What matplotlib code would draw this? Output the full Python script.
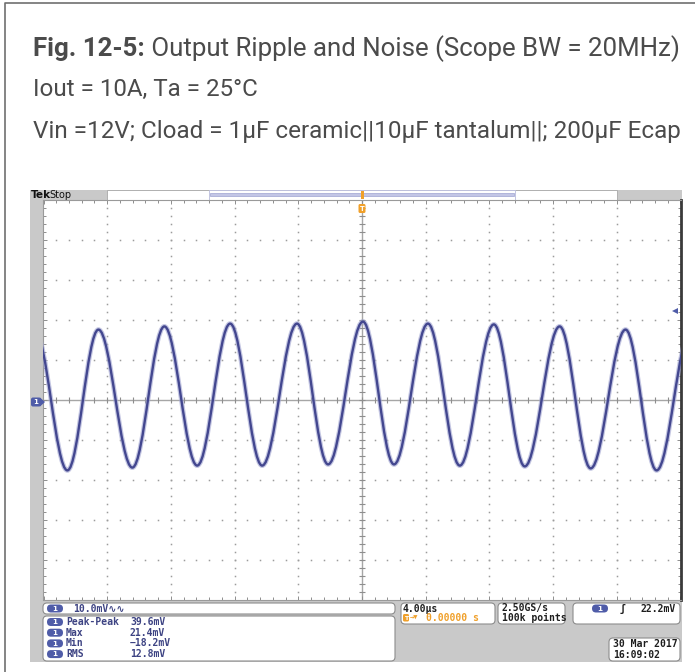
import matplotlib
matplotlib.use("Agg")
import matplotlib.pyplot as plt
import numpy as np
from matplotlib.patches import Rectangle, FancyBboxPatch, PathPatch, Polygon
from matplotlib.path import Path

W, H = 695, 672

# ripple extrema: time in us, level in mV
peak_us = [-20.55, -16.55, -12.41, -8.28, -4.08, 0.06, 4.14, 8.28, 12.41, 16.55, 20.65]
peak_mv = [17.4, 17.6, 18.4, 19.1, 19.1, 19.6, 19.1, 18.9, 18.4, 17.6, 17.4]
trough_us = [-18.50, -14.42, -10.35, -6.27, -2.13, 2.01, 6.14, 10.22, 14.36, 18.50]
trough_mv = [-17.6, -16.9, -16.4, -16.4, -16.1, -16.1, -16.4, -16.6, -17.1, -17.6]

trig_level_mv = 22.2
us_per_div = 4.0
mv_per_div = 10.0

title_bold = "Fig. 12-5:"
title_rest = " Output Ripple and Noise (Scope BW = 20MHz)"
line2 = "Iout = 10A, Ta = 25°C"
line3 = "Vin =12V; Cload = 1μF ceramic||10μF tantalum||; 200μF Ecap"

meas_names = ["Peak-Peak", "Max", "Min", "RMS"]
meas_vals = ["39.6mV", "21.4mV", "−18.2mV", "12.8mV"]
ch_scale = "10.0mV∿∿"
timebase = "4.00µs"
trig_pos = "0.00000 s"
sample_rate = "2.50GS/s"
record_len = "100k points"
trig_text = "22.2mV"
date_str = "30 Mar 2017"
time_str = "16:09:02"

NAVY = "#3d4383"
BADGE = "#4f5ca8"
ORANGE = "#f0a02a"
GRAYBG = "#c9c9c9"
MONO = ["DejaVu Sans Mono", "DejaVu Sans"]

fig = plt.figure(figsize=(W / 100, H / 100), dpi=100, facecolor="white")

# background layer in image pixel units
bg = fig.add_axes([0, 0, 1, 1], zorder=0)
bg.set_xlim(0, W)
bg.set_ylim(H, 0)
bg.axis("off")

# outer frame of the figure box
bg.plot([5, 5, W + 5], [H + 5, 3, 3], color="#6f6f6f", lw=1.2, clip_on=False)

# title lines, each fitted to the width seen in the reference
renderer = fig.canvas.get_renderer()
tcol = "#4b4b4b"
tfont = "Roboto"


def width(t):
    return t.get_window_extent(renderer).width


t1 = bg.text(33, 56, title_bold, fontsize=18, fontweight="bold", family=tfont,
             color=tcol, va="baseline")
t1b = bg.text(33, 56, title_rest, fontsize=18, family=tfont, color=tcol, va="baseline")
s = 18 * 647 / (width(t1) + width(t1b))
t1.set_fontsize(s)
t1b.set_fontsize(s)
t1b.set_x(33 + width(t1))

for txt, yb, target in [(line2, 96, 225), (line3, 138, 646)]:
    t = bg.text(33, yb, txt, fontsize=18, family=tfont, color=tcol, va="baseline")
    t.set_fontsize(18 * target / width(t))

# scope screen backdrop
bg.add_patch(Rectangle((30, 190), 652, 472, fc=GRAYBG, ec="none"))
# header strip
bg.add_patch(Rectangle((107, 190), 510, 10, fc="white", ec="#a8a8a8", lw=0.6))
bg.add_patch(Rectangle((209, 190), 306, 10, fc="white", ec="#b9bcdc", lw=0.6))
bg.add_patch(Rectangle((210, 193.3), 304, 2.6, fc="#c3c6e6", ec="#9fa4d2", lw=0.5))
bg.text(30.5, 195.5, "Tek", fontsize=7.6, fontweight="bold", family="DejaVu Sans",
        color="#111111", va="center")
bg.text(49, 195, "Stop", fontsize=7, family="DejaVu Sans", color="#111111", va="center")


def box(x, y, w, h):
    bg.add_patch(FancyBboxPatch((x, y), w, h, boxstyle="round,pad=0,rounding_size=4",
                                fc="white", ec="#8c8c8c", lw=0.8))


def badge(x, y, w=16, h=8):
    bg.add_patch(FancyBboxPatch((x, y - h / 2), w, h, boxstyle="round,pad=0,rounding_size=4",
                                fc=BADGE, ec="none"))
    bg.text(x + w / 2, y + 0.3, "1", fontsize=5.2, fontweight="bold", color="white",
            ha="center", va="center")


def mono(x, y, txt, color="#1e1e1e", ha="left", size=7):
    bg.text(x, y, txt, fontsize=size, fontweight="bold", family=MONO, color=color,
            ha=ha, va="center")


# readout boxes
box(43, 603, 352, 11)
badge(47, 608.5)
mono(73, 608.5, ch_scale, NAVY)

box(43, 616, 352, 45)
for i, (nm, val) in enumerate(zip(meas_names, meas_vals)):
    yy = 622 + i * 10.7
    badge(47, yy)
    mono(66, yy, nm, NAVY)
    mono(130, yy, val, NAVY)

box(401, 603, 94, 21)
mono(403, 608.5, timebase)
bg.add_patch(FancyBboxPatch((403, 614), 6, 7.5, boxstyle="round,pad=0,rounding_size=1.5",
                            fc=ORANGE, ec="none"))
bg.text(406, 618, "T", fontsize=4.5, fontweight="bold", color="white", ha="center", va="center")
mono(410, 618, "→▼", ORANGE, size=5)
mono(426, 618, trig_pos, ORANGE)

box(498, 603, 67, 21)
mono(502, 608.5, sample_rate)
mono(502, 618, record_len)

box(573, 603, 107, 21)
badge(592, 608.5)
mono(620, 608.5, "ʃ")
mono(676, 608.5, trig_text, ha="right")

box(609, 638, 71, 23)
mono(613, 644, date_str)
mono(613, 655, time_str)

# graticule area
ax = fig.add_axes([43.5 / W, 1 - 600 / H, 637 / W, 400 / H], zorder=1)
ax.set_facecolor("white")
xlo, xhi = -5 * us_per_div, 5 * us_per_div
ylo, yhi = -5 * mv_per_div, 5 * mv_per_div
ax.set_xlim(xlo, xhi)
ax.set_ylim(ylo, yhi)
xmaj = np.arange(xlo, xhi + 0.01, us_per_div)
ymaj = np.arange(ylo, yhi + 0.01, mv_per_div)
xmin = np.arange(xlo, xhi + 0.01, us_per_div / 5)
ymin = np.arange(ylo, yhi + 0.01, mv_per_div / 5)
ax.set_xticks(xmaj)
ax.set_yticks(ymaj)
ax.set_xticks(xmin, minor=True)
ax.set_yticks(ymin, minor=True)
ax.tick_params(which="both", direction="in", top=True, right=True, labelbottom=False,
               labelleft=False, color="#8e8e8e", width=0.7)
ax.tick_params(which="major", length=3.2)
ax.tick_params(which="minor", length=2.2)
for side in ("left", "top", "bottom"):
    ax.spines[side].set_color("#9a9a9a")
    ax.spines[side].set_linewidth(0.8)
ax.spines["right"].set_color("#3a3a3a")
ax.spines["right"].set_linewidth(2.0)

dot = dict(ls="none", marker="s", ms=1.1, mew=0, color="#9c9c9c", zorder=1)
for gx in xmaj[1:-1]:
    if abs(gx) < 1e-9:
        continue
    ax.plot(np.full(len(ymin) - 2, gx), ymin[1:-1], **dot)
for gy in ymaj[1:-1]:
    if abs(gy) < 1e-9:
        continue
    ax.plot(xmin[1:-1], np.full(len(xmin) - 2, gy), **dot)

ax.axhline(0, color="#a6a6a6", lw=1.0, zorder=1)
ax.axvline(0, color="#a6a6a6", lw=1.0, zorder=1)
ax.plot(xmin[1:-1], np.zeros(len(xmin) - 2), ls="none", marker="|", ms=5, mew=0.8,
        color="#8e8e8e", zorder=1)
ax.plot(np.zeros(len(ymin) - 2), ymin[1:-1], ls="none", marker="_", ms=5, mew=0.8,
        color="#8e8e8e", zorder=1)

# ripple trace: smooth Bezier segments between the read extrema
ext = sorted(list(zip(peak_us, peak_mv)) + list(zip(trough_us, trough_mv)))
verts = [ext[0]]
codes = [Path.MOVETO]
k = 0.3634
for (ta, va), (tb, vb) in zip(ext[:-1], ext[1:]):
    d = tb - ta
    verts += [(ta + k * d, va), (tb - k * d, vb), (tb, vb)]
    codes += [Path.CURVE4] * 3
trace = Path(verts, codes)
ax.add_patch(PathPatch(trace, fill=False, ec="#9da1cf", lw=3.4, alpha=0.6, zorder=3))
ax.add_patch(PathPatch(trace, fill=False, ec="#43478f", lw=1.7, zorder=4,
                       joinstyle="round", capstyle="round"))

# trigger level arrow on the right edge
ax.plot([xhi - 0.35], [trig_level_mv], marker="<", ms=4.5, color=BADGE, mew=0,
        clip_on=False, zorder=5)

# foreground markers over the graticule
fg = fig.add_axes([0, 0, 1, 1], zorder=2)
fg.set_xlim(0, W)
fg.set_ylim(H, 0)
fg.axis("off")
fg.patch.set_alpha(0)
# channel 1 ground marker
fg.add_patch(FancyBboxPatch((31, 397.5), 10, 9, boxstyle="round,pad=0,rounding_size=2",
                            fc=BADGE, ec="none"))
fg.add_patch(Polygon([(40, 397.5), (45, 402), (40, 406.5)], closed=True, fc=BADGE, ec="none"))
fg.text(36, 402.3, "1", fontsize=5, fontweight="bold", color="white", ha="center", va="center")
# trigger position markers
fg.add_patch(Rectangle((360.5, 191), 3, 8, fc=ORANGE, ec="none"))
fg.add_patch(FancyBboxPatch((358.5, 204), 7, 9, boxstyle="round,pad=0,rounding_size=1.5",
                            fc=ORANGE, ec="none"))
fg.text(362, 208.7, "T", fontsize=4.8, fontweight="bold", color="white", ha="center",
        va="center")

fig.savefig("out.png", dpi=100, facecolor="white")
